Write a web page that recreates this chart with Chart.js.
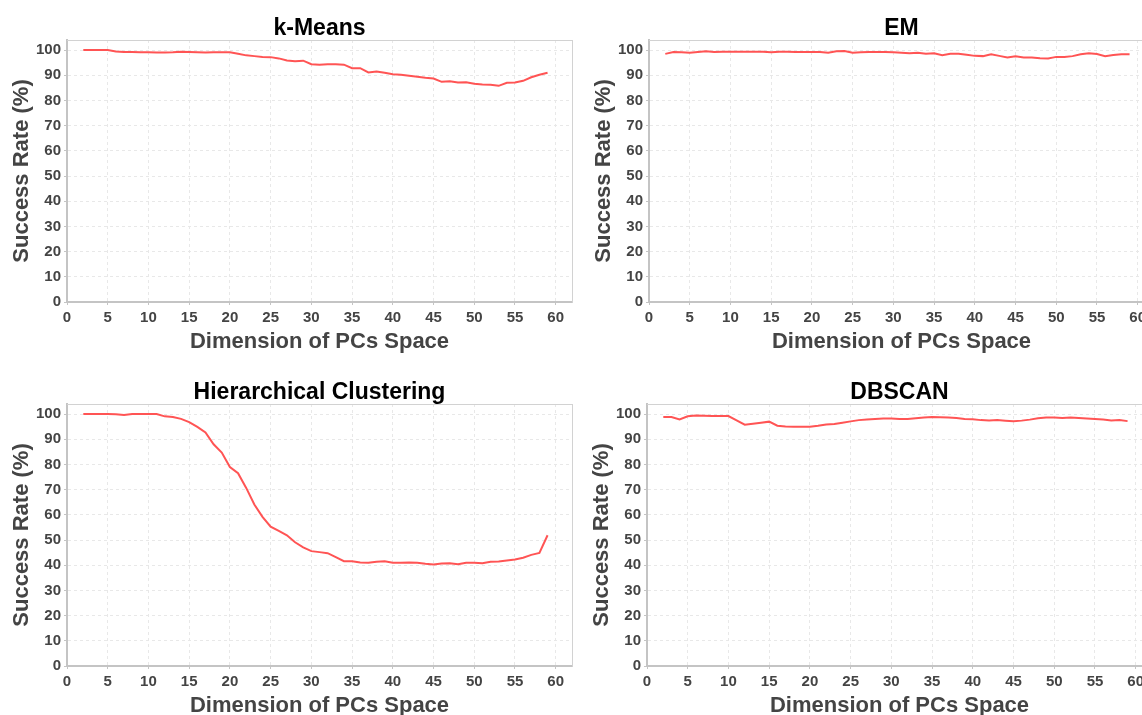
<!DOCTYPE html>
<html lang="en">
<head>
    <meta charset="UTF-8">
    <title>Success Rate vs Dimension of PCs Space</title>
    <script src="https://cdn.jsdelivr.net/npm/chart.js"></script>
    <style>
        html, body { margin: 0; padding: 0; background: #fff; }
        body { position: relative; width: 1142px; height: 715px; overflow: hidden; }
        canvas { position: absolute; }
    </style>
</head>
<body>
    <canvas id="kmeans" width="580" height="360" style="left:0px;top:0px"></canvas>
    <canvas id="em" width="580" height="360" style="left:582px;top:0px"></canvas>
    <canvas id="hier" width="580" height="360" style="left:0px;top:364px"></canvas>
    <canvas id="dbscan" width="580" height="360" style="left:580px;top:364px"></canvas>

    <script>
        // dimension of the PC space (x) for every run
        const dims = [2, 3, 4, 5, 6, 7, 8, 9, 10, 11, 12, 13, 14, 15, 16, 17, 18, 19, 20,
            21, 22, 23, 24, 25, 26, 27, 28, 29, 30, 31, 32, 33, 34, 35, 36, 37, 38, 39, 40,
            41, 42, 43, 44, 45, 46, 47, 48, 49, 50, 51, 52, 53, 54, 55, 56, 57, 58, 59];

        // success rate (%) per algorithm
        const kMeans = [100, 100, 100, 100, 99.4, 99.2, 99.2, 99.1, 99.1, 99.0, 99.0, 99.1, 99.3, 99.2, 99.1, 99.0, 99.1, 99.1, 99.1,
            98.5, 97.9, 97.6, 97.3, 97.2, 96.7, 95.9, 95.6, 95.8, 94.4, 94.2, 94.4, 94.4, 94.2, 92.8, 92.8, 91.1, 91.5, 91.0, 90.4,
            90.2, 89.8, 89.4, 89.0, 88.7, 87.4, 87.6, 87.1, 87.2, 86.6, 86.3, 86.2, 85.8, 87.0, 87.1, 87.8, 89.2, 90.2, 91.0];

        const em = [98.5, 99.2, 99.1, 98.9, 99.2, 99.5, 99.2, 99.3, 99.3, 99.3, 99.3, 99.3, 99.3, 99.1, 99.3, 99.3, 99.2, 99.2, 99.2,
            99.2, 98.9, 99.5, 99.6, 98.9, 99.1, 99.2, 99.2, 99.2, 99.1, 98.9, 98.7, 98.9, 98.5, 98.7, 98.0, 98.5, 98.5, 98.1, 97.7,
            97.6, 98.3, 97.7, 97.1, 97.5, 97.1, 97.1, 96.8, 96.7, 97.3, 97.3, 97.6, 98.3, 98.7, 98.4, 97.6, 98.0, 98.3, 98.3];

        const hierarchical = [100, 100, 100, 100, 99.9, 99.6, 100, 100, 100, 100, 99.1, 98.8, 98.1, 96.8, 94.9, 92.7, 88.0, 84.7, 79.0,
            76.5, 70.7, 64.1, 59.2, 55.3, 53.6, 51.9, 49.1, 47.1, 45.6, 45.2, 44.8, 43.2, 41.6, 41.6, 41.1, 41.0, 41.4, 41.6, 41.0,
            41.0, 41.1, 41.0, 40.6, 40.3, 40.7, 40.8, 40.4, 41.0, 41.0, 40.8, 41.4, 41.5, 41.9, 42.3, 43.0, 44.1, 44.9, 51.9];

        const dbscan = [98.8, 98.8, 97.9, 99.1, 99.4, 99.3, 99.2, 99.2, 99.2, 97.5, 95.8, 96.2, 96.6, 97.0, 95.4, 95.1, 95.0, 95.0, 95.0,
            95.4, 95.9, 96.1, 96.6, 97.1, 97.6, 97.8, 98.0, 98.2, 98.2, 98.0, 98.0, 98.3, 98.6, 98.8, 98.7, 98.6, 98.4, 98.0, 97.9,
            97.6, 97.5, 97.6, 97.4, 97.2, 97.4, 97.8, 98.3, 98.6, 98.6, 98.4, 98.6, 98.4, 98.2, 98.0, 97.8, 97.5, 97.6, 97.2];

        const xTicks = [0, 5, 10, 15, 20, 25, 30, 35, 40, 45, 50, 55, 60];
        const yTicks = [0, 10, 20, 30, 40, 50, 60, 70, 80, 90, 100];

        const FONT = "'Liberation Sans', Arial, sans-serif";
        const X_MAX = 62;
        const Y_MAX = 104;

        function useTicks(values) {
            return axis => { axis.ticks = values.map(v => ({ value: v })); };
        }

        function drawPanel(id, title, values) {
            const ctx = document.getElementById(id).getContext("2d");
            new Chart(ctx, {
                type: "line",
                data: {
                    datasets: [{
                        data: dims.map((d, i) => ({ x: d, y: values[i] })),
                        borderColor: "#ff5454",
                        borderWidth: 2,
                        pointRadius: 0,
                        tension: 0
                    }]
                },
                options: {
                    responsive: false,
                    animation: false,
                    devicePixelRatio: 1,
                    plugins: {
                        legend: { display: false },
                        tooltip: { enabled: false }
                    },
                    scales: {
                        x: {
                            type: "linear",
                            min: 0,
                            max: X_MAX,
                            afterBuildTicks: useTicks(xTicks),
                            grid: { color: "#e8e8e8", tickLength: 3, tickColor: "#c4c4c4" },
                            border: { color: "#c4c4c4", width: 2, dash: [3, 3] },
                            ticks: { color: "#444", padding: 4, maxRotation: 0, autoSkip: false,
                                font: { family: FONT, size: 15, weight: "bold" } },
                            title: { display: true, text: "Dimension of PCs Space", color: "#444",
                                font: { family: FONT, size: 22, weight: "bold" }, padding: { top: 0, bottom: 5 } },
                            afterFit: s => { s.height = 58; }
                        },
                        y: {
                            type: "linear",
                            min: 0,
                            max: Y_MAX,
                            afterBuildTicks: useTicks(yTicks),
                            grid: { color: "#e8e8e8", tickLength: 3, tickColor: "#c4c4c4" },
                            border: { color: "#c4c4c4", width: 2, dash: [3, 3] },
                            ticks: { color: "#444", padding: 3,
                                font: { family: FONT, size: 15, weight: "bold" } },
                            title: { display: true, text: "Success Rate (%)", color: "#444",
                                font: { family: FONT, size: 22, weight: "bold" }, padding: { top: 9, bottom: 0 } },
                            afterFit: s => { s.width = 67; }
                        },
                        // top axis carries the panel title and the upper frame line
                        x2: {
                            type: "linear",
                            position: "top",
                            min: 0,
                            max: X_MAX,
                            grid: { display: false },
                            ticks: { display: false },
                            border: { color: "#d2d2d2", width: 1 },
                            title: { display: true, text: title, color: "#000",
                                font: { family: FONT, size: 23, weight: "bold" }, padding: { top: 15, bottom: 0 } },
                            afterFit: s => { s.height = 40; }
                        },
                        // right axis only closes the frame
                        y2: {
                            type: "linear",
                            position: "right",
                            min: 0,
                            max: Y_MAX,
                            grid: { display: false },
                            ticks: { display: false },
                            border: { color: "#d2d2d2", width: 1 },
                            afterFit: s => { s.width = 8; }
                        }
                    }
                }
            });
        }

        drawPanel("kmeans", "k-Means", kMeans);
        drawPanel("em", "EM", em);
        drawPanel("hier", "Hierarchical Clustering", hierarchical);
        drawPanel("dbscan", "DBSCAN", dbscan);
    </script>
</body>
</html>
